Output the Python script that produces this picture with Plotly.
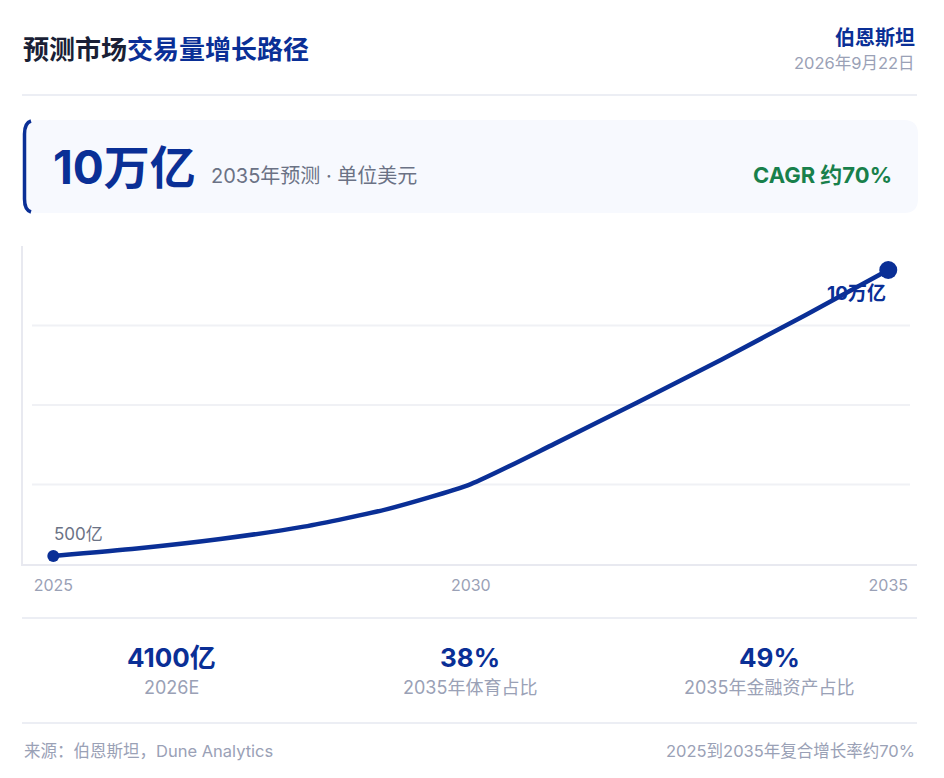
import plotly.graph_objects as go

# 数据（万亿美元）
years = [2025, 2026, 2027, 2028, 2029, 2030, 2031, 2032, 2033, 2034, 2035]
volume = [0.05, 0.31, 0.64, 1.07, 1.68, 2.55, 3.95, 5.40, 6.88, 8.42, 10.0]
end_labels = ["500亿", "10万亿"]
tick_years = [2025, 2030, 2035]

stat_values = ["4100亿", "38%", "49%"]
stat_labels = ["2026E", "2035年体育占比", "2035年金融资产占比"]

BLUE = "#0a2f96"
DARK = "#1a1f36"
GRAY = "#6b7285"
LIGHT = "#9aa1b6"
GREEN = "#18804b"
RULE = "#eceef4"
FONT = "Inter, 'Noto Sans CJK SC', sans-serif"

OFF = 8  # 页面 body 的边距
W, H = 944 - OFF, 778 - OFF
# plot area, page pixels
PL, PR, PT, PB = 23, 917, 246, 564
L, R, T, B = PL - OFF, PR - OFF, PT - OFF, PB - OFF

Y_MIN, Y_MAX = -0.23, 10.835


def px(x):
    return (x - PL) / (PR - PL)


def py(y):
    return (PB - y) / (PB - PT)


def text(x, y, s, size, color, anchor="left", bold=False):
    if bold:
        s = f"<b>{s}</b>"
    return dict(xref="paper", yref="paper", x=px(x), y=py(y), text=s,
                showarrow=False, xanchor=anchor, yanchor="middle",
                font=dict(family=FONT, size=size, color=color))


fig = go.Figure()

fig.add_trace(go.Scatter(
    x=years, y=volume, mode="lines",
    line=dict(color=BLUE, width=4.5, shape="spline", smoothing=0.6),
    hoverinfo="skip", showlegend=False,
))
fig.add_trace(go.Scatter(
    x=[years[0], years[-1]], y=[volume[0], volume[-1]], mode="markers",
    marker=dict(color=BLUE, size=[12, 18], opacity=1, line=dict(width=0)),
    hoverinfo="skip", showlegend=False,
))

annotations = []
annotations.append(text(21, 49,
                        f"<span style='color:{DARK}'>预测市场</span>"
                        f"<span style='color:{BLUE}'>交易量增长路径</span>",
                        26, DARK, bold=True))
annotations.append(text(917, 38, "伯恩斯坦", 20, BLUE, anchor="right", bold=True))
annotations.append(text(917, 63, "2026年9月22日", 16.5, LIGHT, anchor="right"))

annotations.append(text(51, 167, "10万亿", 46, BLUE, bold=True))
annotations.append(text(209, 176, "2035年预测 · 单位美元", 20, GRAY))
annotations.append(text(894, 175, "CAGR 约70%", 22, GREEN, anchor="right", bold=True))

# 端点标签
annotations.append(dict(xref="x", yref="y", x=years[0], y=volume[0], text=end_labels[0],
                        showarrow=False, xanchor="left", yanchor="middle",
                        xshift=-1, yshift=22,
                        font=dict(family=FONT, size=17, color=GRAY)))
annotations.append(dict(xref="x", yref="y", x=years[-1], y=volume[-1],
                        text=f"<b>{end_labels[1]}</b>",
                        showarrow=False, xanchor="right", yanchor="middle",
                        xshift=0, yshift=-23,
                        font=dict(family=FONT, size=19, color=BLUE)))

stat_x = [171, 470, 769]
for sx, v, lab in zip(stat_x, stat_values, stat_labels):
    annotations.append(text(sx, 657, v, 26, BLUE, anchor="center", bold=True))
    annotations.append(text(sx, 687, lab, 18, LIGHT, anchor="center"))

annotations.append(text(22, 751, "来源：伯恩斯坦，Dune Analytics", 16.5, LIGHT))
annotations.append(text(917, 751, "2025到2035年复合增长率约70%", 16.5, LIGHT, anchor="right"))

shapes = []
# 分隔线
for y in [95, 618, 723]:
    shapes.append(dict(type="line", xref="paper", yref="paper",
                       x0=px(22), x1=px(917), y0=py(y), y1=py(y),
                       line=dict(color=RULE, width=2), layer="below"))

# 卡片背景（圆角）
x0, x1, y0, y1, r = 23, 918, 120, 213, 14


def pp(x, y):
    return f"{px(x)},{py(y)}"


card = (f"M {pp(x0 + r, y0)} L {pp(x1 - r, y0)} Q {pp(x1, y0)} {pp(x1, y0 + r)} "
        f"L {pp(x1, y1 - r)} Q {pp(x1, y1)} {pp(x1 - r, y1)} "
        f"L {pp(x0 + r, y1)} Q {pp(x0, y1)} {pp(x0, y1 - r)} "
        f"L {pp(x0, y0 + r)} Q {pp(x0, y0)} {pp(x0 + r, y0)} Z")
shapes.append(dict(type="path", xref="paper", yref="paper", path=card,
                   fillcolor="#f7f9fe", line=dict(width=0), layer="below"))
edge = (f"M {pp(x0 + 8, y0 + 1)} Q {pp(x0 + 1.5, y0 + 3)} {pp(x0 + 1.5, y0 + r)} "
        f"L {pp(x0 + 1.5, y1 - r)} Q {pp(x0 + 1.5, y1 - 3)} {pp(x0 + 8, y1 - 1)}")
shapes.append(dict(type="path", xref="paper", yref="paper", path=edge,
                   line=dict(color=BLUE, width=3.5), layer="below"))

# 网格线（四等分）
step = (Y_MAX - Y_MIN) / 4
for i in range(1, 4):
    gy = Y_MIN + step * i
    shapes.append(dict(type="line", xref="paper", yref="y",
                       x0=px(32), x1=px(910), y0=gy, y1=gy,
                       line=dict(color="#f0f1f5", width=2), layer="below"))

fig.update_layout(
    width=W, height=H,
    margin=dict(l=L, r=W - R, t=T, b=H - B),
    paper_bgcolor="white", plot_bgcolor="white",
    font=dict(family=FONT),
    annotations=annotations, shapes=shapes,
    xaxis=dict(range=[2024.637, 2035.344], tickvals=tick_years,
               ticktext=[str(y) for y in tick_years],
               showgrid=False, zeroline=False,
               showline=True, linecolor="#e8e9f0", linewidth=2,
               ticks="", ticklabelstandoff=6,
               tickfont=dict(family=FONT, size=16, color=LIGHT)),
    yaxis=dict(range=[Y_MIN, Y_MAX], showgrid=False, zeroline=False,
               showticklabels=False, ticks="",
               showline=True, linecolor="#e8e9f0", linewidth=2),
)

fig.write_html("out.html")
